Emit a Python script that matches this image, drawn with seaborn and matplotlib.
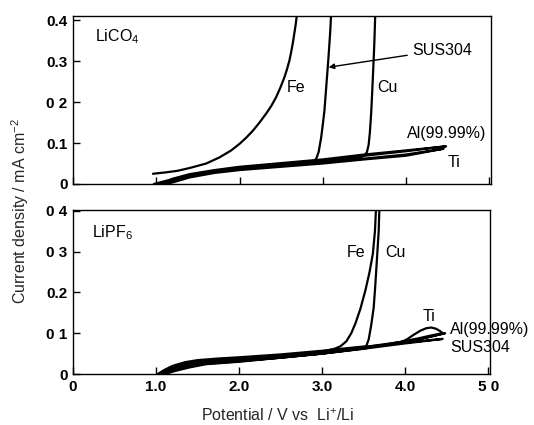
import numpy as np
import pandas as pd
import matplotlib
matplotlib.use("Agg")
import matplotlib.pyplot as plt
import seaborn as sns

# ---------------- data ----------------
# Top panel: LiClO4 electrolyte
top_fe_x = [0.96, 1.1, 1.25, 1.4, 1.6, 1.76, 1.9, 2.0, 2.08, 2.16, 2.24, 2.32, 2.38, 2.44, 2.49, 2.54, 2.57, 2.6, 2.62, 2.64, 2.66, 2.675, 2.69]
top_fe_y = [0.025, 0.028, 0.032, 0.039, 0.05, 0.065, 0.082, 0.098, 0.113, 0.13, 0.15, 0.172, 0.19, 0.212, 0.235, 0.261, 0.28, 0.302, 0.322, 0.344, 0.37, 0.39, 0.415]

top_sus_x = [1.0, 1.2, 1.4, 1.7, 2.0, 2.5, 2.88, 2.92, 2.95, 2.98, 3.0, 3.02, 3.035, 3.05, 3.065, 3.08, 3.09, 3.1]
top_sus_y = [0.0, 0.01, 0.02, 0.03, 0.038, 0.047, 0.055, 0.061, 0.078, 0.113, 0.145, 0.18, 0.22, 0.26, 0.3, 0.344, 0.375, 0.415]

top_cu_x = [0.97, 1.2, 1.4, 1.7, 2.0, 2.5, 3.0, 3.46, 3.5, 3.53, 3.55, 3.565, 3.58, 3.59, 3.6, 3.61, 3.62, 3.63]
top_cu_y = [0.0, 0.012, 0.022, 0.032, 0.04, 0.049, 0.057, 0.065, 0.069, 0.078, 0.095, 0.125, 0.17, 0.21, 0.255, 0.3, 0.35, 0.415]

top_al_x = [1.05, 1.2, 1.4, 1.7, 2.0, 2.5, 3.0, 3.5, 4.0, 4.48, 4.0, 3.5, 3.0, 2.5, 2.0, 1.7, 1.4, 1.2, 1.1]
top_al_y = [0.0, 0.013, 0.024, 0.034, 0.042, 0.051, 0.06, 0.072, 0.082, 0.092, 0.08, 0.069, 0.055, 0.045, 0.037, 0.03, 0.018, 0.008, 0.0]

top_ti_x = [1.1, 1.25, 1.4, 1.7, 2.0, 2.5, 3.0, 3.5, 4.0, 4.45, 4.0, 3.5, 3.0, 2.5, 2.0, 1.7, 1.4, 1.2, 1.12]
top_ti_y = [0.0, 0.012, 0.02, 0.03, 0.036, 0.045, 0.053, 0.062, 0.072, 0.086, 0.069, 0.06, 0.05, 0.042, 0.034, 0.027, 0.016, 0.004, 0.0]

# Bottom panel: LiPF6 electrolyte
bot_fe_x = [1.04, 1.12, 1.2, 1.35, 1.5, 1.75, 2.0, 2.5, 3.0, 3.15, 3.22, 3.29, 3.35, 3.4, 3.46, 3.52, 3.57, 3.61, 3.635, 3.65]
bot_fe_y = [0.0, 0.008, 0.015, 0.024, 0.029, 0.033, 0.036, 0.044, 0.055, 0.062, 0.068, 0.08, 0.1, 0.124, 0.16, 0.205, 0.25, 0.295, 0.35, 0.415]

bot_cu_x = [1.02, 1.1, 1.2, 1.35, 1.5, 1.75, 2.0, 2.5, 3.0, 3.53, 3.56, 3.59, 3.62, 3.64, 3.66, 3.68, 3.69]
bot_cu_y = [0.0, 0.01, 0.02, 0.029, 0.034, 0.038, 0.041, 0.048, 0.057, 0.068, 0.085, 0.12, 0.163, 0.22, 0.285, 0.35, 0.415]

bot_ti_x = [1.08, 1.15, 1.25, 1.4, 1.6, 2.0, 2.5, 3.0, 3.5, 3.95, 4.02, 4.1, 4.18, 4.25, 4.31, 4.37, 4.42, 4.45,
            4.3, 4.15, 3.95, 3.5, 3.0, 2.5, 2.0, 1.6, 1.4, 1.2, 1.1]
bot_ti_y = [0.0, 0.007, 0.015, 0.022, 0.027, 0.032, 0.04, 0.05, 0.063, 0.078, 0.085, 0.096, 0.106, 0.112, 0.114, 0.111, 0.105, 0.1,
            0.094, 0.087, 0.079, 0.062, 0.05, 0.04, 0.03, 0.024, 0.016, 0.006, 0.0]

bot_al_x = [1.1, 1.2, 1.35, 1.6, 2.0, 2.5, 3.0, 3.5, 4.0, 4.2, 4.48, 4.3, 4.0, 3.5, 3.0, 2.5, 2.0, 1.6, 1.35, 1.2, 1.12]
bot_al_y = [0.0, 0.011, 0.02, 0.028, 0.035, 0.044, 0.054, 0.066, 0.08, 0.087, 0.1, 0.091, 0.078, 0.064, 0.052, 0.042, 0.033, 0.026, 0.017, 0.007, 0.0]

bot_sus_x = [1.05, 1.15, 1.25, 1.4, 1.6, 2.0, 2.5, 3.0, 3.5, 4.0, 4.45, 4.0, 3.5, 3.0, 2.5, 2.0, 1.6, 1.4, 1.2, 1.06]
bot_sus_y = [0.0, 0.012, 0.02, 0.027, 0.032, 0.038, 0.046, 0.055, 0.066, 0.077, 0.086, 0.075, 0.062, 0.05, 0.04, 0.031, 0.025, 0.018, 0.007, 0.0]

x_ticks = [0, 1, 2, 3, 4, 5]
x_tick_labels = ["0", "1.0", "2.0", "3.0", "4.0", "5 0"]
y_ticks = [0, 0.1, 0.2, 0.3, 0.4]
top_y_tick_labels = ["0", "0.1", "0 2", "0.3", "0.4"]
bot_y_tick_labels = ["0", "0 1", "0.2", "0 3", "0 4"]

# ---------------- build tidy frames ----------------
def frame(curves):
    rows = []
    for name, xs, ys in curves:
        for i, (x, y) in enumerate(zip(xs, ys)):
            rows.append({"metal": name, "order": i, "V": x, "J": y})
    return pd.DataFrame(rows)

top_df = frame([("Fe", top_fe_x, top_fe_y), ("SUS304", top_sus_x, top_sus_y),
                ("Cu", top_cu_x, top_cu_y), ("Al", top_al_x, top_al_y),
                ("Ti", top_ti_x, top_ti_y)])
bot_df = frame([("Fe", bot_fe_x, bot_fe_y), ("Cu", bot_cu_x, bot_cu_y),
                ("Ti", bot_ti_x, bot_ti_y), ("Al", bot_al_x, bot_al_y),
                ("SUS304", bot_sus_x, bot_sus_y)])

# ---------------- figure ----------------
sns.set_style("ticks")
plt.rcParams["font.family"] = ["Liberation Sans", "DejaVu Sans"]
plt.rcParams["mathtext.fontset"] = "custom"
plt.rcParams["mathtext.rm"] = "Liberation Sans"
plt.rcParams["mathtext.it"] = "Liberation Sans"

W, H = 534, 425
fig = plt.figure(figsize=(W / 100, H / 100), dpi=100)
ax_top = fig.add_axes([73 / W, 1 - 184 / H, 418 / W, 168 / H])
ax_bot = fig.add_axes([73 / W, 1 - 374 / H, 417 / W, 164 / H])

for ax, df, ylim, ylabels in [(ax_top, top_df, 0.41, top_y_tick_labels),
                              (ax_bot, bot_df, 0.402, bot_y_tick_labels)]:
    sns.lineplot(data=df, x="V", y="J", units="metal", estimator=None, sort=False,
                 color="black", lw=1.6, ax=ax, legend=False)
    ax.set_xlim(0, 5.02)
    ax.set_ylim(0, ylim)
    ax.set_xticks(x_ticks)
    ax.set_yticks(y_ticks)
    ax.set_yticklabels(ylabels, fontsize=11, fontweight="bold")
    ax.set_xlabel("")
    ax.set_ylabel("")
    for s in ax.spines.values():
        s.set_visible(True)
        s.set_linewidth(1.0)
        s.set_color("black")
    ax.tick_params(direction="in", length=5, width=1.0, colors="black", pad=4)

ax_top.set_xticklabels([])
ax_bot.set_xticklabels(x_tick_labels, fontsize=11, fontweight="bold")

txt = dict(fontsize=11.5, color="black")
# top panel annotations
ax_top.text(0.26, 0.359, "LiCO$_4$", va="center", ha="left", **txt)
ax_top.text(2.57, 0.236, "Fe", va="center", ha="left", **txt)
ax_top.text(3.65, 0.236, "Cu", va="center", ha="left", **txt)
ax_top.text(4.01, 0.123, "Al(99.99%)", va="center", ha="left", clip_on=False, **txt)
ax_top.text(4.5, 0.052, "Ti", va="center", ha="left", **txt)
ax_top.annotate("SUS304", xy=(3.07, 0.285), xytext=(4.07, 0.327), va="center", ha="left",
                arrowprops=dict(arrowstyle="-|>", color="black", lw=1.0,
                                mutation_scale=8, shrinkA=1, shrinkB=0),
                annotation_clip=False, **txt)
# bottom panel annotations
ax_bot.text(0.23, 0.346, "LiPF$_6$", va="center", ha="left", **txt)
ax_bot.text(3.29, 0.297, "Fe", va="center", ha="left", **txt)
ax_bot.text(3.76, 0.297, "Cu", va="center", ha="left", **txt)
ax_bot.text(4.21, 0.14, "Ti", va="center", ha="left", **txt)
ax_bot.text(4.54, 0.108, "Al(99.99%)", va="center", ha="left", clip_on=False, **txt)
ax_bot.text(4.54, 0.066, "SUS304", va="center", ha="left", clip_on=False, **txt)

fig.text(20 / W, 1 - 211 / H, "Current density / mA cm$^{-2}$", rotation=90,
         ha="center", va="center", fontsize=11.5)
fig.text(278 / W, 1 - 416 / H, "Potential / V vs  Li$^{+}$/Li",
         ha="center", va="center", fontsize=11.5)

fig.savefig("out.png", dpi=100)
